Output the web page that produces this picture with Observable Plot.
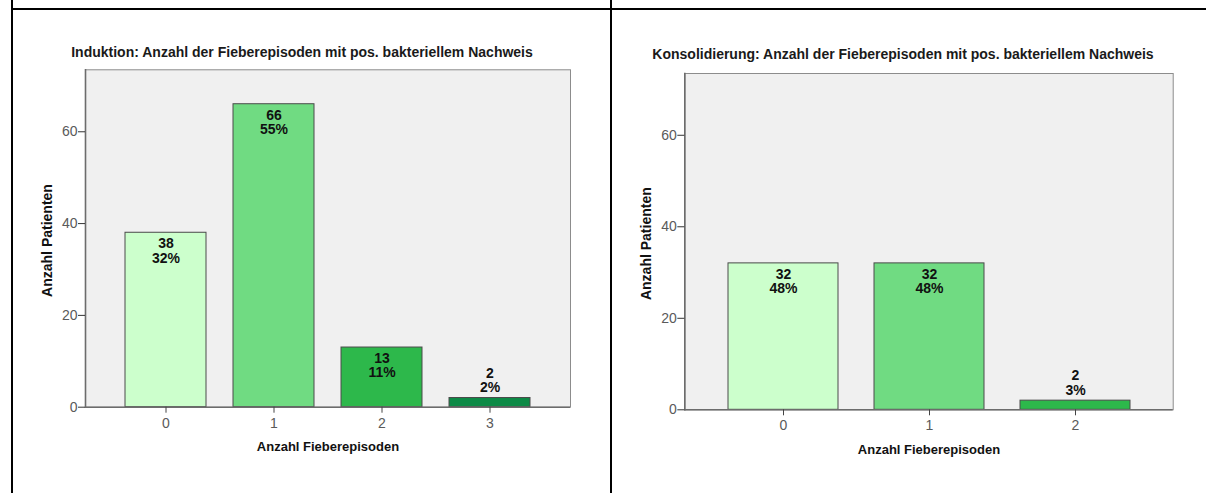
<!DOCTYPE html>
<html lang="de">
<head>
<meta charset="utf-8">
<script src="https://cdn.jsdelivr.net/npm/d3@7"></script>
<script src="https://cdn.jsdelivr.net/npm/@observablehq/plot@0.6"></script>
<style>
  html, body { margin: 0; padding: 0; background: #fff; overflow: hidden; }
  body { position: relative; width: 1206px; height: 493px;
         font-family: "Liberation Sans", Arial, Helvetica, sans-serif; }
  .rule-h { position: absolute; left: 11px; top: 8px; width: 1195px; height: 2px; background: #000; }
  .rule-v { position: absolute; top: 0; width: 2px; height: 493px; background: #000; }
  .panel { position: absolute; top: 60px; }
  .title { position: absolute; white-space: nowrap; transform: translateX(-50%);
           font-weight: bold; font-size: 14px; line-height: 16px; color: #1a1a1a; }
</style>
</head>
<body>
<div class="rule-h"></div>
<div class="rule-v" style="left:11px"></div>
<div class="rule-v" style="left:610px"></div>
<div class="title" style="left:302px; top:43.5px">Induktion: Anzahl der Fieberepisoden mit pos. bakteriellem Nachweis</div>
<div class="title" style="left:903px; top:46px">Konsolidierung: Anzahl der Fieberepisoden mit pos. bakteriellem Nachweis</div>
<div class="panel" id="induktion" style="left:13px"></div>
<div class="panel" id="konsolidierung" style="left:613px"></div>
<script>
// Induktion: Anzahl Patienten je Anzahl Fieberepisoden
const induktionEpisoden = ["0", "1", "2", "3"];
const induktionPatienten = [38, 66, 13, 2];
const induktionProzent = [32, 55, 11, 2];

// Konsolidierung
const konsolidierungEpisoden = ["0", "1", "2"];
const konsolidierungPatienten = [32, 32, 2];
const konsolidierungProzent = [48, 48, 3];

const barColors = ["#ccffcc", "#70db82", "#2db84b", "#0d8a46"];
const yTicks = [0, 20, 40, 60];
const yMax = 73.5;
const xTitle = "Anzahl Fieberepisoden";
const yTitle = "Anzahl Patienten";

function barChart({episoden, patienten, prozent, paddingOuter, margins}) {
  const rows = episoden.map((e, i) => ({episode: e, n: patienten[i], pct: prozent[i]}));
  const label = d => `${d.n}\n${d.pct}%`;
  // labels sit inside the bar when it is tall enough, otherwise on top of it
  const inside = rows.filter(d => d.n >= 8);
  const above = rows.filter(d => d.n < 8);
  return Plot.plot({
    width: 590,
    height: 410,
    ...margins,
    style: {fontFamily: '"Liberation Sans", Arial, sans-serif', fontSize: "14px", background: "transparent", overflow: "visible"},
    x: {domain: episoden, paddingInner: 0.25, paddingOuter, label: null},
    y: {domain: [0, yMax], label: null},
    color: {domain: ["0", "1", "2", "3"], range: barColors},
    marks: [
      Plot.frame({fill: "#f0f0f0", stroke: "#8c8c8c", strokeWidth: 1}),
      Plot.barY(rows, {x: "episode", y: "n", fill: "episode", stroke: "#4a4a4a", strokeWidth: 1}),
      Plot.frame({anchor: "left", stroke: "#6c6c6c", strokeWidth: 1.6}),
      Plot.ruleY([0], {stroke: "#6c6c6c", strokeWidth: 1.6}),
      Plot.axisY({ticks: yTicks, tickSize: 7, tickPadding: 1, stroke: "#333", fill: "#5a5a5a", fontSize: 14, label: null}),
      Plot.axisX({tickSize: 6, tickPadding: 4.5, stroke: "#444", fill: "#5a5a5a", fontSize: 14, label: null}),
      Plot.text(inside, {x: "episode", y: "n", text: label, lineAnchor: "top", dy: 5.5, lineHeight: 1.02,
                         fontWeight: "bold", fontSize: 14, fill: "#111"}),
      Plot.text(above, {x: "episode", y: "n", text: label, lineAnchor: "bottom", dy: -6, lineHeight: 1.02,
                        fontWeight: "bold", fontSize: 14, fill: "#111"}),
      Plot.text([yTitle], {frameAnchor: "left", textAnchor: "middle", dx: -38, dy: 2, rotate: -90,
                           fontWeight: "bold", fontSize: 14, fill: "#111"}),
      Plot.text([xTitle], {frameAnchor: "bottom", textAnchor: "middle", lineAnchor: "middle", dy: 40,
                           fontWeight: "bold", fontSize: 13, fill: "#111"})
    ]
  });
}

document.getElementById("induktion").append(barChart({
  episoden: induktionEpisoden,
  patienten: induktionPatienten,
  prozent: induktionProzent,
  paddingOuter: 0.35,
  margins: {marginLeft: 72, marginRight: 33, marginTop: 9.3, marginBottom: 63.3}
}));

document.getElementById("konsolidierung").append(barChart({
  episoden: konsolidierungEpisoden,
  patienten: konsolidierungPatienten,
  prozent: konsolidierungProzent,
  paddingOuter: 0.29,
  margins: {marginLeft: 71.3, marginRight: 30.3, marginTop: 13, marginBottom: 60.7}
}));
</script>
</body>
</html>
